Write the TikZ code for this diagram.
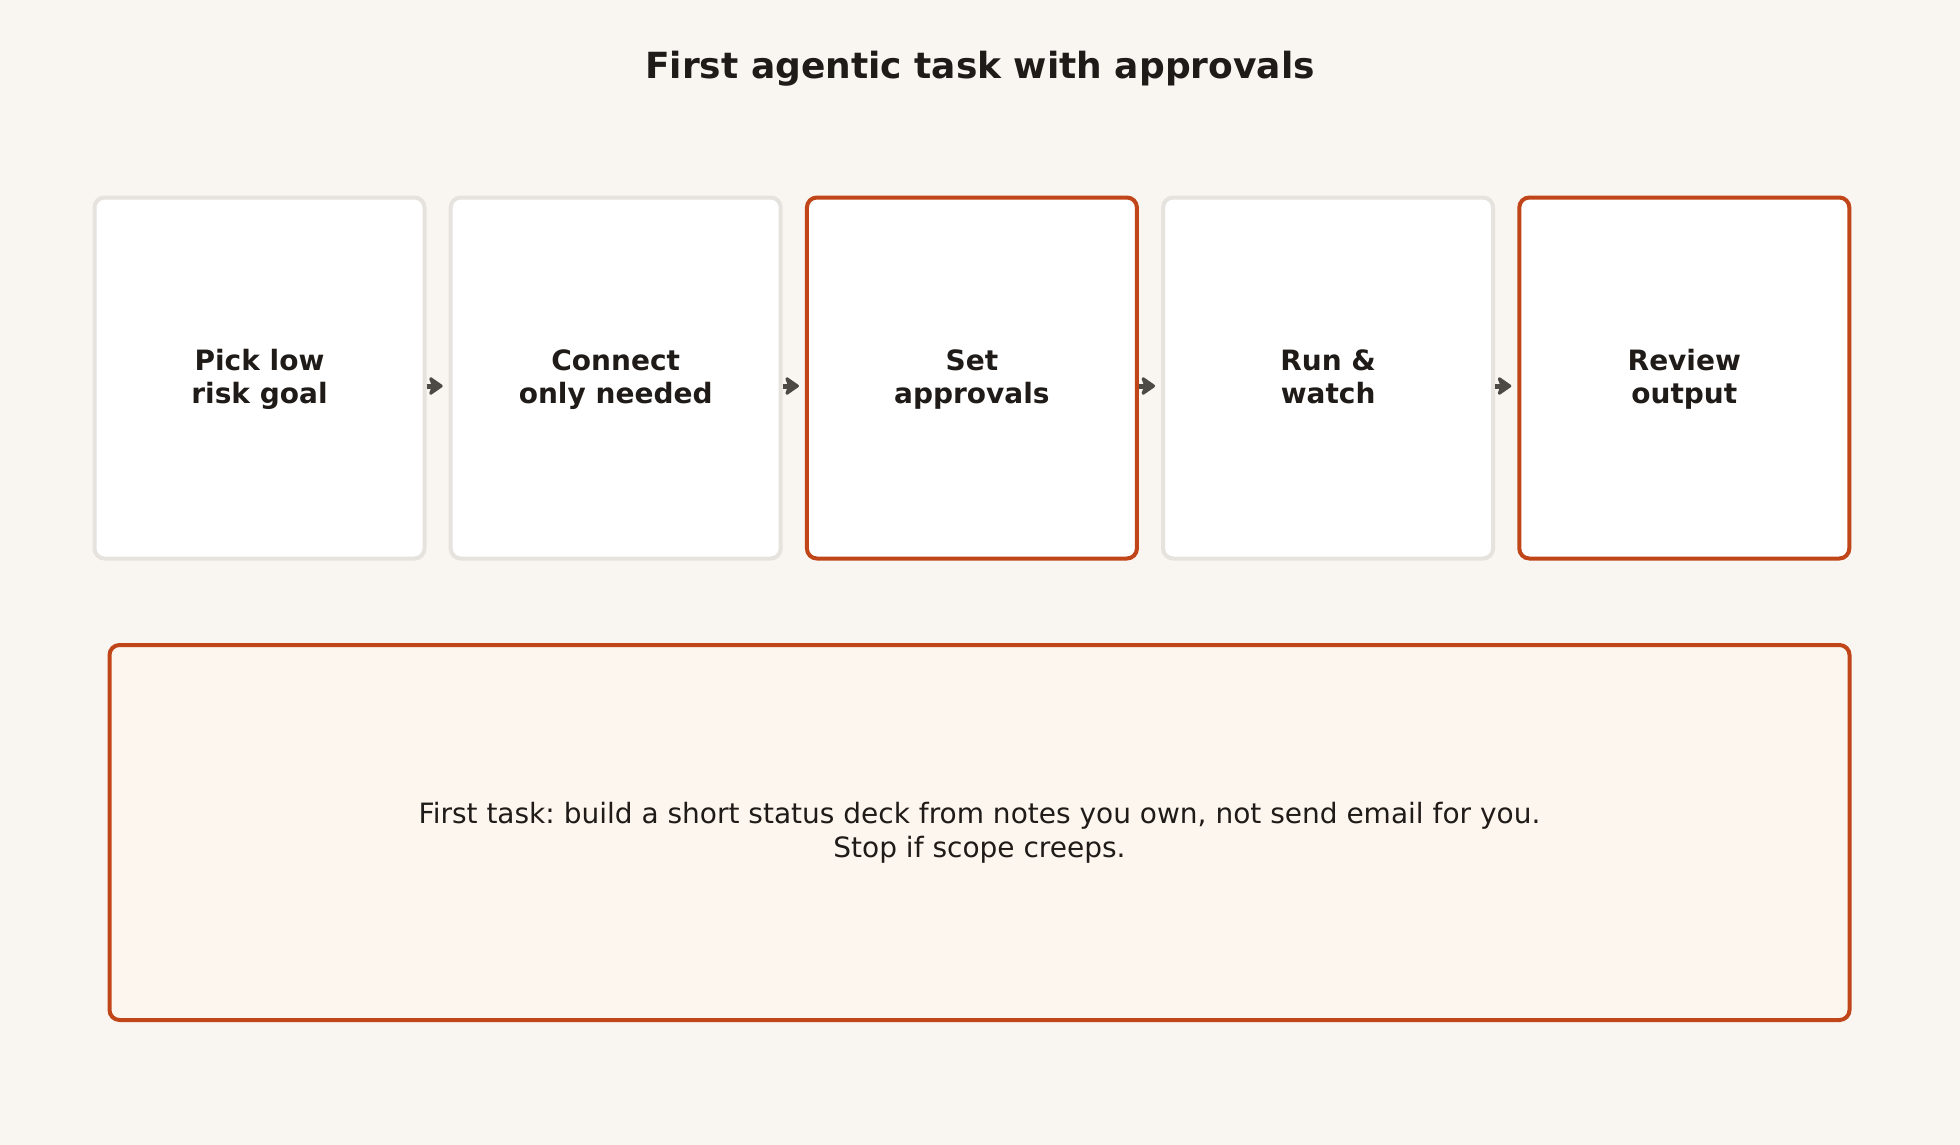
\documentclass[tikz,border=0pt]{standalone}
\usepackage{fontspec}
\setmainfont{DejaVu Sans}
\usetikzlibrary{arrows.meta, positioning}
\definecolor{paper}{HTML}{F9F6F2}
\definecolor{ink}{HTML}{1F1B18}
\definecolor{rim}{HTML}{E6E3DF}
\definecolor{rust}{HTML}{C0461A}
\definecolor{cream}{HTML}{FDF6EE}
\definecolor{shaft}{HTML}{4D4945}
\tikzstyle{line} = [draw, shaft, line width=2.5pt, -{Stealth[length=8pt, width=11pt, inset=2pt, round]}]
\frenchspacing

\begin{document}
\begin{tikzpicture}
    [
        x=0.5pt, y=-0.5pt,
        node distance=178.1pt,
        stepbox/.style={draw=rim, fill=white, line width=2pt, rounded corners=5pt,
            minimum width=165pt, minimum height=180.5pt, inner sep=0pt,
            align=center, text=ink, font=\bfseries\fontsize{14}{16.5}\selectfont,
            execute at begin node=\rule{0pt}{30.8pt}, execute at end node=\strut},
        keybox/.style={stepbox, draw=rust},
        notebox/.style={draw=rust, fill=cream, line width=2pt, rounded corners=5pt,
            minimum width=870pt, minimum height=187.5pt, inner sep=0pt,
            align=center, text=ink, font=\fontsize{14}{17}\selectfont}
    ]

    % page
    \fill[paper] (0,0) rectangle (1960,1145);

    \node[text=ink, font=\bfseries\fontsize{18}{22}\selectfont] (title) at (980,69) {First agentic task with approvals};

    % steps
    \node[stepbox] (pick) at (259.5,378) {Pick low\\risk goal};
    \node[stepbox, right of=pick] (connect) {Connect\\only needed};
    \node[keybox, right of=connect] (approve) {Set\\approvals};
    \node[stepbox, right of=approve] (run) {Run \&\\watch};
    \node[keybox, right of=run] (review) {Review\\output};

    \path[line] ([yshift=-4pt]pick.east) -- ([yshift=-4pt, xshift=-3pt]connect.west);
    \path[line] ([yshift=-4pt]connect.east) -- ([yshift=-4pt, xshift=-3pt]approve.west);
    \path[line] ([yshift=-4pt]approve.east) -- ([yshift=-4pt, xshift=-3pt]run.west);
    \path[line] ([yshift=-4pt]run.east) -- ([yshift=-4pt, xshift=-3pt]review.west);

    % note
    \node[notebox] (note) at (979.5,832.5) {First task: build a short status deck from notes you own, not send email for you.\\Stop if scope creeps.};

\end{tikzpicture}
\end{document}
